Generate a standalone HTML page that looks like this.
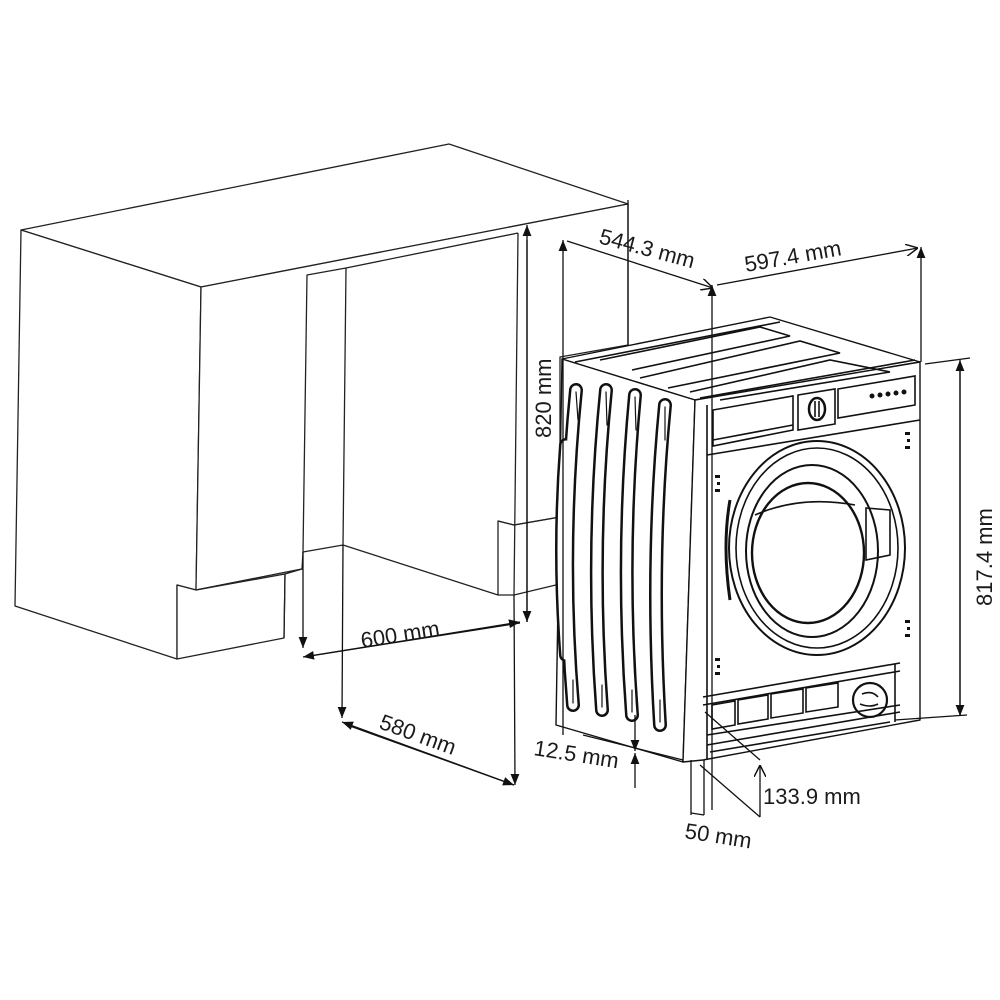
<!DOCTYPE html>
<html><head><meta charset="utf-8"><style>
html,body{margin:0;padding:0;background:#fff;}
svg{display:block;}
text{font-family:"Liberation Sans",sans-serif;font-size:22px;fill:#1a1a1a;}
</style></head><body>
<svg width="1000" height="1000" viewBox="0 0 1000 1000" xmlns="http://www.w3.org/2000/svg">
<defs>
<marker id="af" viewBox="0 0 10 10" refX="10" refY="5" markerWidth="11" markerHeight="11" markerUnits="userSpaceOnUse" orient="auto"><path d="M0,1 L10,5 L0,9 Z" fill="#111"/></marker>
<marker id="ao" viewBox="0 0 10 10" refX="10" refY="5" markerWidth="12" markerHeight="12" markerUnits="userSpaceOnUse" orient="auto"><path d="M0,0 L10,5 L0,10" fill="none" stroke="#111" stroke-width="1.2"/></marker>
</defs>
<g fill="#fff" stroke="#222" stroke-width="1.3" stroke-linejoin="round">
<polygon points="21,230 449,144 628,204 201,287"/>
<polygon points="21,230 201,287 196,590 177,585 177,659 15,606"/>
<polygon points="201,287 628,204 628,345 560,357 560,517 514,525 498,521 498,595 343,545 346,268 307,275 303,552 302,569 196,590"/>
<line x1="346" y1="268" x2="518" y2="233"/>
<line x1="518" y1="233" x2="514" y2="595"/>
<polygon points="177,585 196,590 302,569 285,574 284,638 177,659" fill="#fff"/>
<polyline points="196,590 285,574 284,638" fill="none"/>
<polyline points="498,521 514,525 560,517" fill="none"/>
<polyline points="498,595 514,595 560,584" fill="none"/>
<line x1="303" y1="552" x2="343" y2="545"/>
</g>
<g stroke="#111" stroke-width="1.3" fill="none">
<line x1="527" y1="622" x2="527" y2="225" marker-end="url(#af)"/>
<line x1="527" y1="240" x2="527" y2="622" marker-end="url(#af)"/>
<line x1="303" y1="552" x2="303" y2="648" marker-end="url(#af)"/>
<line x1="520" y1="623" x2="303" y2="657" marker-end="url(#af)"/>
<line x1="310" y1="656" x2="520" y2="622" marker-end="url(#af)"/>
<line x1="343" y1="545" x2="342" y2="718" marker-end="url(#af)"/>
<line x1="514" y1="785" x2="342" y2="722" marker-end="url(#af)"/>
<line x1="350" y1="726" x2="514" y2="785" marker-end="url(#af)"/>
<line x1="514" y1="595" x2="515" y2="785" marker-end="url(#af)"/>
</g>
<text transform="translate(551,438) rotate(-90)">820 mm</text>
<text transform="translate(362,648) rotate(-9)">600 mm</text>
<text transform="translate(378,728) rotate(20)">580 mm</text>

<g stroke="#111" stroke-width="1.4" fill="#fff" stroke-linejoin="round">
<polygon points="562,359 770,317 920,362 695,400"/>
<polygon points="562,359 695,400 683,762 556,725"/>
<polygon points="695,400 920,362 920,720 703,760 683,762"/>
</g>
<g stroke="#111" stroke-width="1.6" fill="none">
<polyline points="600,360 760,327 790,336 632,370"/>
<polyline points="640,378 800,341 840,353 668,388"/>
<polyline points="690,392 830,360 890,372 720,400"/>
<line x1="575" y1="362" x2="780" y2="322"/>
<line x1="700" y1="398" x2="915" y2="360"/>
<line x1="707" y1="405" x2="707" y2="760"/>
<polygon points="713,410 793,396 793,430 713,446"/>
<line x1="713" y1="440" x2="793" y2="425"/>
<polygon points="798,395 835,389 835,424 798,430"/>
<ellipse cx="817" cy="409" rx="8" ry="11" stroke-width="2.5"/>
<line x1="815" y1="401" x2="815" y2="417"/><line x1="819" y1="401" x2="819" y2="417"/>
<polygon points="838,389 915,376 915,405 838,418"/>
<line x1="707" y1="455" x2="920" y2="420"/>
<ellipse cx="817" cy="548" rx="88" ry="107" stroke-width="2"/>
<ellipse cx="817" cy="548" rx="81" ry="100"/>
<ellipse cx="812" cy="551" rx="66" ry="86" stroke-width="2"/>
<ellipse cx="808" cy="553" rx="56" ry="70" stroke-width="2.4"/>
<path d="M755,515 Q800,495 855,505"/>
<polygon points="866,508 890,510 890,555 866,560"/>
<path d="M730,500 Q722,545 730,600" stroke-width="3"/>
<line x1="703" y1="697" x2="900" y2="663"/>
<line x1="703" y1="705" x2="900" y2="671"/>
<polygon points="712,705 735,701 735,725 712,729"/>
<polygon points="738,700 768,695 768,719 738,724"/>
<polygon points="771,694 803,689 803,713 771,718"/>
<polygon points="806,688 838,683 838,707 806,712"/>
<circle cx="870" cy="700" r="17" stroke-width="2.2"/>
<path d="M862,694 Q872,690 878,697 M860,704 Q870,708 878,704"/>
<line x1="707" y1="735" x2="900" y2="705"/>
<line x1="707" y1="745" x2="900" y2="712"/>
<line x1="710" y1="752" x2="890" y2="722"/>
<line x1="895" y1="664" x2="895" y2="722"/>
</g>
<g fill="none" stroke-linecap="round">
<g stroke="#111" stroke-width="14">
<path d="M576,390 Q560,550 573,705"/>
<path d="M606,390 Q590,550 602,710"/>
<path d="M635,395 Q620,555 632,715"/>
<path d="M665,405 Q650,560 660,725"/>
<path d="M566,445 Q558,550 566,655"/>
</g>
<g stroke="#fff" stroke-width="9">
<path d="M576,390 Q560,550 573,705"/>
<path d="M606,390 Q590,550 602,710"/>
<path d="M635,395 Q620,555 632,715"/>
<path d="M665,405 Q650,560 660,725"/>
<path d="M566,445 Q558,550 566,655"/>
</g>
<g stroke="#111" stroke-width="1.2">
<path d="M576,392 L578,420 M573,680 L573,703"/>
<path d="M606,392 L607,425 M602,685 L602,707"/>
<path d="M635,397 L636,430 M632,690 L632,712"/>
<path d="M665,407 L665,440 M660,700 L660,722"/>
</g>
</g>
<g fill="#111"><rect x="715" y="475" width="5" height="3"/><rect x="717" y="482" width="3" height="3"/><rect x="715" y="489" width="5" height="3"/>
<rect x="905" y="432" width="5" height="3"/><rect x="907" y="439" width="3" height="3"/><rect x="905" y="446" width="5" height="3"/>
<rect x="905" y="620" width="5" height="3"/><rect x="907" y="627" width="3" height="3"/><rect x="905" y="634" width="5" height="3"/>
<rect x="715" y="658" width="5" height="3"/><rect x="717" y="665" width="3" height="3"/><rect x="715" y="672" width="5" height="3"/>
<circle cx="872" cy="396" r="2.5"/><circle cx="880" cy="395" r="2.5"/><circle cx="888" cy="394" r="2.5"/><circle cx="896" cy="393" r="2.5"/><circle cx="904" cy="392" r="2.5"/></g>

<g stroke="#111" stroke-width="1.3" fill="none">
<line x1="628" y1="200" x2="628" y2="345"/>
<line x1="563" y1="735" x2="563" y2="240" marker-end="url(#af)"/>
<line x1="567" y1="241" x2="713" y2="288" marker-end="url(#ao)"/>
<line x1="712" y1="810" x2="712" y2="285" marker-end="url(#af)"/>
<line x1="717" y1="285" x2="918" y2="248" marker-end="url(#ao)"/>
<line x1="921" y1="362" x2="921" y2="247" marker-end="url(#af)"/>
<line x1="925" y1="364" x2="970" y2="358"/>
<line x1="895" y1="720" x2="967" y2="715"/>
<line x1="960" y1="715" x2="960" y2="360" marker-end="url(#af)"/>
<line x1="960" y1="370" x2="960" y2="716" marker-end="url(#af)"/>
<line x1="583" y1="735" x2="683" y2="760"/>
<line x1="635" y1="715" x2="635" y2="751" marker-end="url(#af)"/>
<line x1="635" y1="788" x2="635" y2="753" marker-end="url(#af)"/>
<line x1="691" y1="760" x2="691" y2="815"/>
<line x1="704" y1="760" x2="704" y2="815"/>
<line x1="691" y1="813" x2="704" y2="815"/>
<line x1="705" y1="712" x2="760" y2="760"/>
<line x1="700" y1="765" x2="760" y2="817"/>
<line x1="760" y1="817" x2="760" y2="765" marker-end="url(#ao)"/>
</g>
<text transform="translate(598,243) rotate(15)">544.3 mm</text>
<text transform="translate(746,272) rotate(-10)">597.4 mm</text>
<text transform="translate(992,606) rotate(-90)">817.4 mm</text>
<text transform="translate(533,755) rotate(9)">12.5 mm</text>
<text x="763" y="804">133.9 mm</text>
<text transform="translate(684,838) rotate(9)">50 mm</text>
</svg>
</body></html>
